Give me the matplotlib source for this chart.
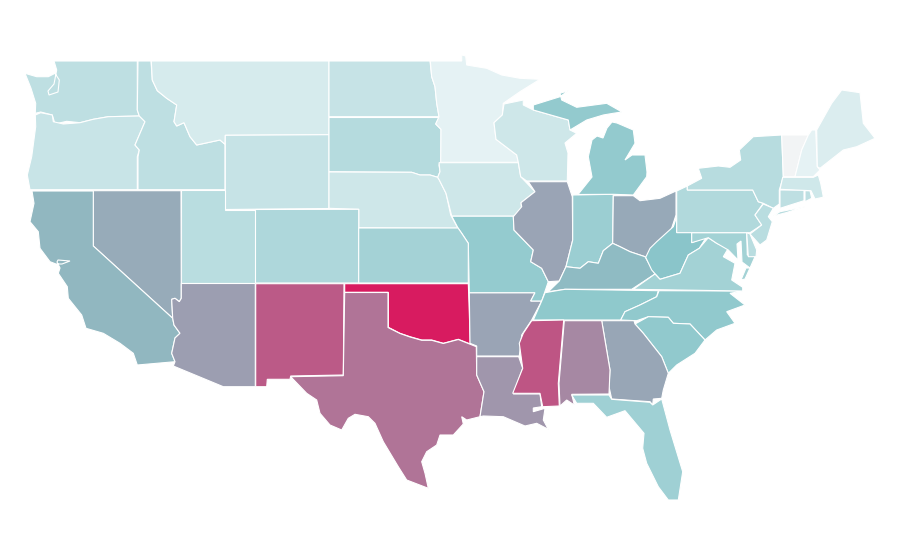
import matplotlib
matplotlib.use("Agg")
from matplotlib import pyplot as plt
from matplotlib.colors import LinearSegmentedColormap, Normalize
from matplotlib.patches import Polygon

states = ["WA","OR","ID","MT","WY","ND","SD","NE","CO","UT","NV","CA","AZ","NM","OK","TX","LA","AR","MO","KS",
          "MN","IA","WI","IL","IN","OH","MI","KY","TN","NC","SC","GA","AL","MS","FL","WV","VA","PA","NY","NJ",
          "CT","RI","MA","VT","NH","ME","MD","DE"]
rates = [25,20,25,13.5,21,21,29,17.5,32.5,27.5,58,54.5,61.5,81.5,100,74,64,60,45,37.5,
         6,17.5,17.5,60,41.5,58.5,46,53.5,47.5,46.5,46.5,59,68,83,40,50,38,31.5,28.5,27.5,
         25,25,16.5,0,6,11,38,27.5]

# outlines in screen units of the 900x560 picture
outlines = {
"WA": [[(54,61),(137.3,61),(137.3,110),(139.3,116),(108.3,116.7),(93.3,119.3),(80,122.7),(66.7,121.3),(55,124),(52.3,115),(40.7,112),(35.3,113.3),(35.7,103.3),(31,88.3),(25,73.3),(36.7,76.7),(48.3,76.7),(55,73.3),(59.3,80),(58,92),(49,95),(48,91),(54,84),(56.7,70)]],
"OR": [[(35.3,115),(40.7,112.7),(52.3,115),(53.3,121.7),(63.3,124),(80,122.7),(93.3,119.3),(108.3,116.7),(139.3,116),(145,121.7),(135,145),(139.3,150),(137.3,156.7),(137.3,189.7),(30,189.7),(27.3,175),(31.7,156.7),(35.7,126.7)]],
"ID": [[(138,61),(151,61),(152.3,80),(157.3,90.7),(166.7,98.3),(176.7,105),(174,121.7),(176.7,126),(184,122.7),(190,136.7),(196.7,145),(220,140),(225,144.3),(225,189.7),(138,189.7),(138,156.7),(139.3,150),(135,145),(145,121.7),(139.3,116),(137.3,110)]],
"MT": [[(151.3,61),(329,61),(329,134.7),(225.3,135.3),(225,144.3),(220,140),(196.7,145),(190,136.7),(184,122.7),(176.7,126),(174,121.7),(176.7,105),(166.7,98.3),(157.3,90.7),(152.3,80)]],
"WY": [[(225.3,135.3),(329,134.7),(329,208.5),(225.3,209.5)]],
"ND": [[(329,61),(430,61),(431.7,76.7),(435,86.7),(436.7,103.3),(439,116.7),(329,116.7)]],
"SD": [[(329,117.5),(439,117.5),(435.7,124),(441,129.3),(441,161.7),(439,165),(440,171.7),(437.7,177.3),(430,175),(420,175),(411.7,172.3),(329,171.7)]],
"NE": [[(329,172),(411.7,172.3),(420,175),(430,175),(437.7,177.3),(439.3,180),(446,193.3),(450.7,215),(458,228.3),(358.7,227.7),(358.7,209.3),(329,208.3)]],
"CO": [[(255.3,209.5),(358.7,209.3),(358.7,283),(255.3,283)]],
"UT": [[(181.3,190.3),(225,190.3),(225,209.5),(255.3,209.5),(255.3,283),(181.3,283)]],
"NV": [[(93.3,190.7),(181,190.7),(181.3,298.3),(179.3,301.7),(175,298.3),(171.7,299.3),(172.7,318.3),(93.3,246)]],
"CA": [[(32,191),(93.3,191),(93.3,246),(172.7,318.3),(174,325),(180,333.3),(175,338),(171.7,353.3),(175,361.7),(137.3,365),(133.3,353.3),(120,343.3),(103.3,333.3),(86,328.3),(81.7,315),(68.3,298.3),(67.3,286.7),(58.3,273.3),(60,268),(57,262),(58,260),(70,261),(62,264),(56,264),(50,261.7),(40,248.3),(38.3,231.7),(30,221.7),(34,203.3)]],
"AZ": [[(181.3,283.5),(255.3,283.5),(255.3,386.7),(223.3,386.7),(173.3,366),(175,361.7),(171.7,353.3),(175,338),(180,333.3),(174,325),(172.7,318.3),(171.7,299.3),(175,298.3),(179.3,301.7),(181.3,298.3)]],
"NM": [[(255.7,283.7),(344,283.7),(343.3,375),(290.7,376),(290,379.3),(267.3,379.3),(266.7,386.7),(255.7,386.7)]],
"OK": [[(344.7,283.7),(468.3,283.7),(469,303.3),(470.3,344),(458.3,339.3),(443.3,343.3),(431.7,340),(421.7,340),(410,336.7),(400,333.3),(388.3,327.3),(388.3,292.3),(344.7,292.3)]],
"TX": [[(344.7,292.5),(388,292.5),(388,327.5),(400,333.5),(410,337),(421.7,340.3),(431.7,340.3),(443.3,343.5),(458.3,339.5),(470.3,344.3),(476.3,346.7),(476.7,375),(484,391.7),(480,416.7),(466.7,420),(461.7,416.7),(463.3,424),(453.3,435),(440,435),(436.7,445),(426.7,451.7),(421.7,461.7),(425,473.3),(428.3,488.3),(406.7,480),(398.3,466.7),(383.3,441.7),(375,423.3),(368.3,416.7),(355,414.3),(348.3,418.3),(341.7,430),(330,425),(320,413.3),(316.7,400),(306.7,393.3),(290.7,376.7),(343.3,375.7)]],
"LA": [[(476.7,356.7),(518.7,356.7),(522.7,368.3),(513.3,394),(540,394),(541.7,406.7),(533.3,408),(533.3,411.7),(545,408.3),(543.3,420),(548.3,429.3),(536.7,423.3),(525,426),(503.3,416.7),(483.3,416),(480,416.7),(484,391.7),(476.7,375)]],
"AR": [[(469.3,292.7),(535,292.7),(530.7,301),(541.7,301),(531.7,320),(521.7,335),(519.3,356),(476.7,356),(476.7,346),(470,343.3)]],
"MO": [[(451.7,216),(513.3,216),(514,230),(533.3,250),(530.7,261.7),(541.7,268.3),(548.3,281.7),(541.7,301),(530.7,301),(535,292.7),(469.3,292.7),(468.3,243.3),(461.7,233.3),(458,228)]],
"KS": [[(358.7,228),(458,228),(461.7,233.3),(468.3,243.3),(468.3,283),(358.7,283)]],
"MN": [[(430.3,61),(461.7,61),(461.7,55),(465.7,56),(466.7,65),(486.7,68.3),(501.7,75),(520,78.3),(540,79.3),(520,91.7),(503.3,103.3),(502.3,115),(494,122.7),(496,139.3),(516.7,155),(518.3,162.3),(440.7,162.3),(441,129.3),(435.7,124),(439,116.7),(436.7,103.3),(435,86.7),(431.7,76.7)]],
"IA": [[(439,162.7),(518.3,162.7),(520.7,176.7),(535,191.7),(521,202.7),(521.7,210),(514,216),(451.7,216),(446,193.3),(439.3,180),(437.7,177.3),(440,171.7)]],
"WI": [[(504,104),(523.3,100),(523.3,105),(533.3,110),(568.3,120),(570,130),(576.7,133.3),(565,143),(568,153),(567.3,181),(526.7,181),(520.7,176.7),(518.3,162.3),(516.7,155),(496,139.3),(494,122.7),(502.3,115)]],
"IL": [[(528.3,181.7),(567.3,181.7),(572.3,196.7),(572.7,240),(566,266.7),(559.3,281),(548.3,281.7),(541.7,268.3),(530.7,261.7),(533.3,250),(514,230),(513.3,216.7),(521.7,206.7),(521,202.7),(535,191.7)]],
"IN": [[(572.7,195),(613.3,194.3),(612.7,243.3),(603.3,250.7),(598.3,263.3),(588.3,261.7),(580,268.3),(566,266.7),(572.7,240)]],
"OH": [[(613.3,195.7),(633.3,195.7),(640,200.7),(660,198.3),(676,191),(676,215),(670,233.3),(656.7,243.3),(646.7,258.3),(645,256.7),(630,251.7),(620,246.7),(612.7,243.3)]],
"MI": [[(578,194.5),(592,177),(588.3,156.7),(592,140),(597,136),(603,138),(607,128),(612,122),(617,123),(633.3,130),(635,143.3),(625,160),(632,155),(645,155),(647,172),(646.7,176.7),(633.3,195),(613.3,194.3)],
       [(533.3,105),(560,96.7),(568.3,90.7),(560,93.3),(561.7,100),(576.7,107.3),(606.7,103.3),(622,112),(613.3,113.3),(603.3,115),(586.7,120),(570,130),(568.3,120),(533.3,110)]],
"KY": [[(548.3,291.7),(565,289.3),(631.7,289.3),(655,274),(645,256.7),(630,251.7),(620,246.7),(612.7,243.3),(603.3,250.7),(598.3,263.3),(588.3,261.7),(580,268.3),(566,266.7),(559.3,281)]],
"TN": [[(545,292.7),(565,289.3),(658.3,290.7),(656.7,296.7),(640,305),(625,311.7),(620.7,320),(533.3,320),(541.7,301)]],
"NC": [[(659,290.7),(742.7,291),(730,293.3),(745,305),(726.7,311.7),(735,323.3),(716.7,330),(705,340),(690,324),(673.3,323.3),(668.3,317.3),(648.3,316.7),(636.7,320.7),(620.7,320),(625,311.7),(640,305),(656.7,296.7)]],
"SC": [[(635,324),(648.3,316.7),(668.3,317.3),(673.3,323.3),(690,324),(705,340),(695,353.3),(676.7,365),(668.3,373.3),(661.7,356.7),(643.3,333.3)]],
"GA": [[(601.7,320.7),(634,320.7),(635,324),(643.3,333.3),(661.7,356.7),(668.3,373.3),(663.3,390),(661.7,398.3),(653.3,399),(652.7,405),(650,401.7),(611.7,399),(609,386.7),(610,370)]],
"AL": [[(564.3,320.7),(601.7,320.7),(610,370),(609,394),(571.7,394.3),(574.3,405),(566.7,400),(560,406),(559,383.3)]],
"MS": [[(531.7,320.7),(563.7,320),(558.3,383.3),(559.3,406),(542.7,406.7),(540,393.3),(512.7,393.3),(522.7,368.3),(519.3,343.3),(523.3,333.3)]],
"FL": [[(571.7,395),(609,395),(611.7,399.3),(650,402.3),(652.7,405),(661.7,399),(670,430),(682.7,471.7),(678.3,500),(668.3,500),(658.3,486.7),(646.7,463.3),(642.7,448.3),(644,433.3),(625,410.7),(606.7,417.3),(593.3,403.3),(576.7,403.3)]],
"WV": [[(645.7,257.3),(650,248.3),(656.7,241.7),(673.3,226.7),(676.7,216.7),(676.7,232.3),(691.7,232.3),(691.7,242.7),(706.7,236.7),(699.3,248.3),(688.3,255),(680,273.3),(660,279.3),(651.7,270)]],
"VA": [[(633.3,289.3),(655,274),(660,279.3),(680,273.3),(688.3,255),(699.3,248.3),(708.3,237.7),(716.7,243.3),(728.3,248.3),(723.3,256.7),(735,263.3),(731.7,280),(742.7,287.3),(742.7,291)],
       [(750,268),(745,279),(741,280),(746,268)]],
"PA": [[(687.3,190),(752.7,190),(758.3,201.7),(763.3,203.3),(755,215),(761.7,225),(750,232.7),(676.7,232.7),(676.7,191),(687.3,186)]],
"NY": [[(687.3,186),(701.7,178.3),(698.3,168.3),(718.3,166),(730,167.3),(740.7,160),(739.3,150),(753.3,136.7),(781.7,135),(783.3,176.7),(779.3,190),(779.3,204),(773.3,208.3),(763.3,203.3),(758.3,201.7),(752.7,190),(687.3,190)],
       [(773.3,216),(780,211.7),(805,206.7),(786,212.7)]],
"NJ": [[(763.3,204),(773.3,208.3),(768.3,216.7),(772.3,221.7),(766.7,240),(760,245),(750,234),(761.7,225),(755,215)]],
"CT": [[(780,190),(804,190),(804,200.7),(780,208.3)]],
"RI": [[(805,190.7),(810,190.7),(811.7,198.3),(805,201.7)]],
"MA": [[(782.7,177.3),(813.3,177.3),(818.3,175),(820.7,183.3),(823.3,196.7),(830,195.7),(815,199),(811,190.7),(780,189.3)]],
"VT": [[(781.7,135),(808.3,135),(801.7,150),(795,176.7),(783.3,176.7)]],
"NH": [[(811.7,130),(815.7,130),(817.3,166.7),(820,170),(813.3,176.7),(795,176.7),(801.7,150),(808.3,135)]],
"ME": [[(816.7,130),(831.7,103.3),(841.7,90),(860,92.7),(863.3,123.3),(875,138.3),(856.7,146.7),(843.3,150),(820,168.3),(817.3,166.7)]],
"MD": [[(691.7,232.8),(746.7,232.8),(747.3,255),(755,256.7),(750,268),(742,262),(741,241),(737,244),(738,260),(728.3,250),(716.7,243.3),(708.3,237.7),(691.7,242.7)]],
"DE": [[(746.7,232.7),(750,234),(756.7,250),(756,256.7),(748.3,256.7)]],
}

# near-white only for the lowest state, then pale teal up to the midpoint, then crimson
rate_cmap = LinearSegmentedColormap.from_list(
    "rate", [(0, "#f2f4f5"), (0.06, "#e5f2f4"), (0.5, "#8ac6ca"), (1, "#d81b60")])
norm = Normalize(0, 100)

fig = plt.figure(figsize=(9, 5.6), dpi=100)
ax = fig.add_axes([0, 0, 1, 1])
for name, rate in zip(states, rates):
    for part in outlines[name]:
        ax.add_patch(Polygon(part, closed=True, facecolor=rate_cmap(norm(rate)), edgecolor="white", linewidth=0.8))
ax.set_xlim(0, 900)
ax.set_ylim(560, 0)
ax.axis("off")
fig.savefig("out.png", dpi=100, facecolor="white")
